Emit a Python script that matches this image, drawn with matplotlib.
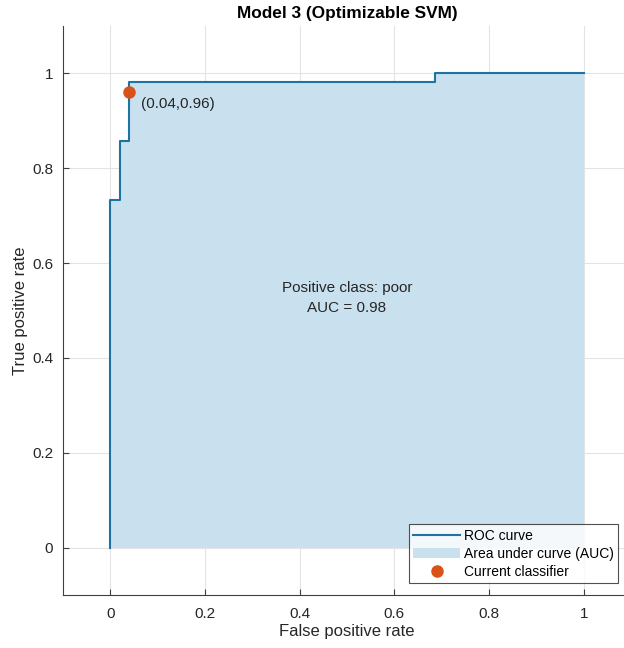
import matplotlib.pyplot as plt

plt.rcParams['font.family'] = ['Liberation Sans', 'DejaVu Sans']

# ROC curve corner points (false positive rate, true positive rate)
fpr = [0, 0, 0.02, 0.02, 0.04, 0.04, 0.686, 0.686, 1.0]
tpr = [0, 0.732, 0.732, 0.857, 0.857, 0.982, 0.982, 1.0, 1.0]

# operating point of the current classifier
op_fpr = 0.04
op_tpr = 0.96

auc = 0.98
pos_class = 'poor'
ticks = [0, 0.2, 0.4, 0.6, 0.8, 1]
tick_labels = ['0', '0.2', '0.4', '0.6', '0.8', '1']

line_col = '#1f73a3'
fill_col = '#c9e1ef'
dot_col = '#d95319'
txt_col = '#262626'

fig = plt.figure(figsize=(6.24, 6.48), dpi=100)
# axes run a little past the right edge, like the cropped original
ax = fig.add_axes([63 / 624, 53 / 648, 568 / 624, 569 / 648])

ax.fill_between(fpr, tpr, 0, color=fill_col, linewidth=0, label='Area under curve (AUC)', zorder=1)
ax.plot(fpr, tpr, color=line_col, linewidth=1.5, label='ROC curve', zorder=3)
ax.plot([op_fpr], [op_tpr], 'o', color=dot_col, markersize=8, label='Current classifier', zorder=4)
ax.text(op_fpr + 0.024, op_tpr - 0.024, '(%.2f,%.2f)' % (op_fpr, op_tpr),
        fontsize=11, color=txt_col, va='center', ha='left', zorder=5)
ax.text(0.5, 0.526, 'Positive class: %s\nAUC = %.2f' % (pos_class, auc),
        fontsize=11, color=txt_col, ha='center', va='center', linespacing=1.5, zorder=5)

ax.set_xlim(-0.1, 1.1)
ax.set_ylim(-0.1, 1.1)
ax.set_xticks(ticks)
ax.set_xticklabels(tick_labels)
ax.set_yticks(ticks)
ax.set_yticklabels(tick_labels)
ax.grid(True, color='#e3e3e3', linewidth=0.8, zorder=0)
ax.set_axisbelow(True)
ax.tick_params(direction='in', length=4, colors='#404040', labelcolor=txt_col, labelsize=11)
ax.tick_params(axis='x', pad=9)
ax.tick_params(axis='y', pad=7)
for s in ['top', 'right']:
    ax.spines[s].set_visible(False)
for s in ['left', 'bottom']:
    ax.spines[s].set_color('#404040')
    ax.spines[s].set_linewidth(0.8)

ax.set_xlabel('False positive rate', fontsize=12, color=txt_col, labelpad=2)
ax.set_ylabel('True positive rate', fontsize=12, color=txt_col, labelpad=3)
ax.set_title('Model 3 (Optimizable SVM)', fontsize=12.4, fontweight='bold', color='black', pad=6)

handles, labels = ax.get_legend_handles_labels()
order = [1, 0, 2]
leg = ax.legend([handles[i] for i in order], [labels[i] for i in order],
                loc='lower right', bbox_to_anchor=(618 / 624, 65 / 648), bbox_transform=fig.transFigure,
                fontsize=10, frameon=True, fancybox=False, edgecolor='#262626',
                borderpad=0.3, labelspacing=0.3, handlelength=3.4, handletextpad=0.25, borderaxespad=0)
leg.get_frame().set_linewidth(0.8)

fig.savefig('out.png', dpi=100)
